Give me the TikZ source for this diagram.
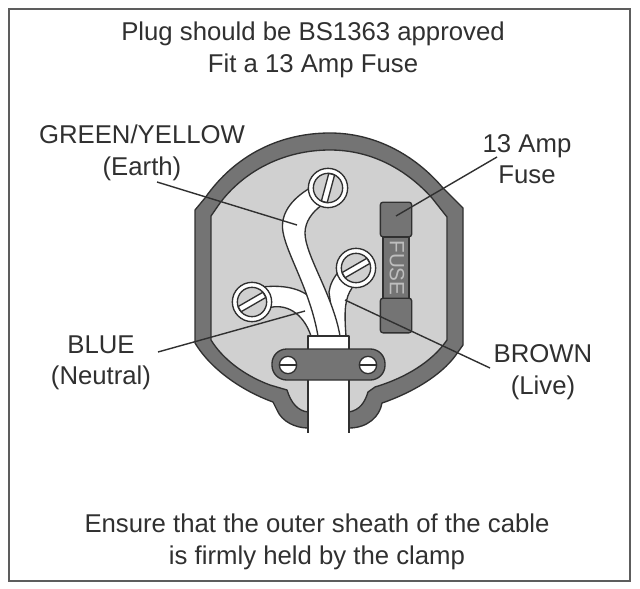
\documentclass[tikz,border=0pt]{standalone}
\usepackage{fontspec}
\setmainfont{Liberation Sans}
\definecolor{rimgrey}{RGB}{116,116,116}
\definecolor{facegrey}{RGB}{208,208,208}
\definecolor{inkgrey}{RGB}{48,48,48}
\begin{document}
\begin{tikzpicture}[x=0.75pt,y=-0.75pt,
	caption/.style={align=center,text=inkgrey,font=\fontsize{19.3}{23.6}\selectfont},
	outline/.style={draw=inkgrey,line width=1pt,line join=round},
	wire/.style={outline,fill=white},
	leader/.style={draw=inkgrey,line width=1.05pt},
	termring/.style={circle,outline,fill=white,minimum size=29.5pt,inner sep=0pt},
	termcore/.style={circle,outline,fill=facegrey,minimum size=22pt,inner sep=0pt},
	termslot/.style={rectangle,outline,fill=white,minimum width=21.5pt,minimum height=4.5pt,inner sep=0pt},
	clampscrew/.style={circle,outline,fill=white,minimum size=13pt,inner sep=0pt},
	fusecap/.style={rectangle,outline,fill=rimgrey,rounded corners=2pt,minimum width=23.5pt,minimum height=26pt,inner sep=0pt}
]
	\useasboundingbox (0,0) rectangle (640,589);
	\fill[white] (0,0) rectangle (640,589);
	\draw[draw=rimgrey!80!black,line width=1.5pt] (9,9) rectangle (630,581);

	\draw[outline,fill=rimgrey] (308,428) .. controls (296,428) and (282,422) .. (277,410) -- (273,402)
		.. controls (240,390) and (210,368) .. (195,343) -- (195,210) -- (205,198)
		.. controls (235,155) and (280,133) .. (330,133)
		.. controls (375,133) and (415,155) .. (443,188) -- (463,208) -- (463,345) -- (458,352)
		.. controls (445,372) and (418,390) .. (385,402) -- (382,403)
		.. controls (380,416) and (368,428) .. (349,428) -- cycle;
	\draw[outline,fill=facegrey] (308,412) .. controls (298,411) and (291,403) .. (287,390) -- (270,385)
		.. controls (243,375) and (222,358) .. (211,340) -- (211,216) -- (220,203)
		.. controls (245,170) and (285,150) .. (330,150)
		.. controls (370,150) and (405,168) .. (432,198) -- (447,217) -- (447,340)
		.. controls (432,362) and (405,378) .. (375,387) -- (368,392)
		.. controls (365,402) and (360,410) .. (349,412) -- cycle;
	\fill[white] (308,349) rectangle (349,433);
	\draw[outline] (308,349) -- (308,433);
	\draw[outline] (349,349) -- (349,433);

	\draw[wire] (340,270) .. controls (333,278) and (330,285) .. (329,292) -- (335,336) -- (346,336) .. controls (344,310) and (345,298) .. (352,288);
	\draw[wire] (262,287) .. controls (280,285) and (298,287) .. (310,297) -- (320,336) -- (311,336) .. controls (303,312) and (285,303) .. (268,308);
	\draw[wire] (310,188) .. controls (290,200) and (280,215) .. (283,232) .. controls (287,255) and (310,290) .. (318,336) -- (340,336)
		.. controls (333,295) and (305,255) .. (305,233) .. controls (305,222) and (312,212) .. (322,205);

	\foreach \tname/\tx/\ty/\tangle in {earth/328/188/75,neutral/252/302/30,live/356/268/30}{
		\node[termring] (\tname ring) at (\tx,\ty) {};
		\node[termcore] (\tname core) at (\tx,\ty) {};
		\node[termslot,rotate=\tangle] (\tname slot) at (\tx,\ty) {};
	}

	\node[rectangle,outline,fill=white,minimum width=30.75pt,minimum height=10pt,inner sep=0pt] (sheath) at (328.5,342.5) {};
	\draw[outline,fill=rimgrey,rounded corners=11pt] (272,349) rectangle (385,380);
	\foreach \cname/\cx in {clampleft/288,clampright/368}{
		\node[clampscrew] (\cname) at (\cx,365) {};
		\draw[inkgrey,line width=2.2pt] (\cname.west) -- (\cname.east);
	}

	\node[rectangle,outline,fill=rimgrey,minimum width=19.5pt,minimum height=46pt,inner sep=0pt] (fusebody) at (396,267.5) {};
	\node[fusecap] (fusetop) at (396,219.5) {};
	\node[fusecap] (fusebottom) at (396,315.5) {};
	\node[rotate=-90,text=facegrey!80!rimgrey,font=\fontsize{15.5}{16}\selectfont] (fusetext) at (397,268) {FUSE};

	\node[caption] (heading) at (313,50) {Plug should be BS1363 approved\\Fit a 13 Amp Fuse};
	\node[caption] (earthlabel) at (142,153) {GREEN/YELLOW\\(Earth)};
	\node[caption] (neutrallabel) at (101,363) {BLUE\\(Neutral)};
	\node[caption] (fuselabel) at (527,159) {13 Amp\\Fuse};
	\node[caption] (livelabel) at (543,372) {BROWN\\(Live)};
	\node[caption] (footer) at (317,542) {Ensure that the outer sheath of the cable\\is firmly held by the clamp};

	\coordinate (earthfrom) at (157,182);
	\coordinate (earthtip) at (297,225);
	\coordinate (neutralfrom) at (158,352);
	\coordinate (neutraltip) at (305,311);
	\coordinate (fusefrom) at (497,157);
	\coordinate (fusetip) at (396,216);
	\coordinate (livefrom) at (490,368);
	\coordinate (livetip) at (345,300);
	\draw[leader] (earthfrom) -- (earthtip);
	\draw[leader] (neutralfrom) -- (neutraltip);
	\draw[leader] (fusefrom) -- (fusetip);
	\draw[leader] (livefrom) -- (livetip);
\end{tikzpicture}
\end{document}
